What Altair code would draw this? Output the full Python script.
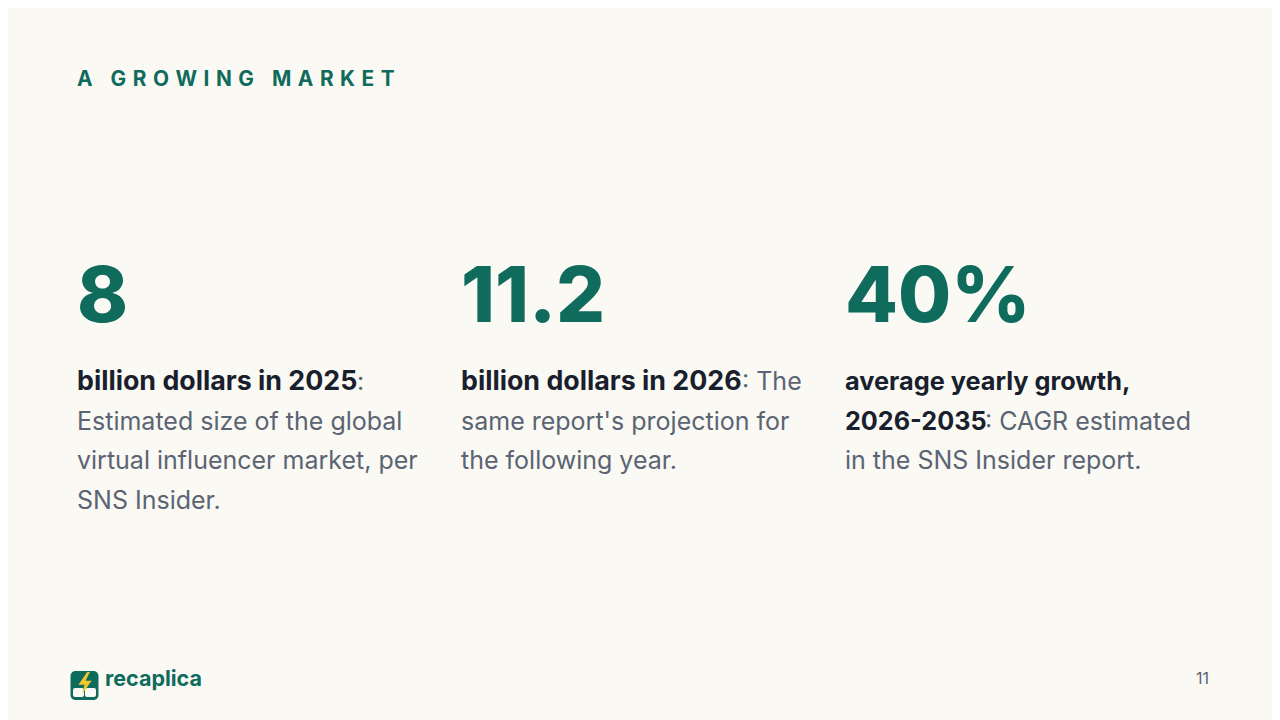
import altair as alt
import pandas as pd

GREEN = "#0f6b5c"
DARK = "#1a1f2e"
GREY = "#5b6472"
BG = "#faf9f4"

SEP = "\u2009\u200a\u200a"
WORD_SEP = SEP + " \u2009\u2009"
eyebrow_words = ["A", "GROWING", "MARKET"]
big_numbers = ["8", "11.2", "40%"]
bold_lines = [
    ["billion dollars in 2025"],
    ["billion dollars in 2026"],
    ["average yearly growth,", "2026-2035"],
]
grey_lines = [
    ["Estimated size of the global", "virtual influencer market, per", "SNS Insider."],
    ["same report's projection for", "the following year."],
    ["in the SNS Insider report."],
]
tails = [":", ": The", ": CAGR estimated"]
brand = "recaplica"
page_number = "11"

# page offset: the html body has an 8px margin
OFF = 8
W, H = 1264, 712
COLS = [77 - OFF, 461 - OFF, 845 - OFF]
LINE_Y = [382 - OFF, 422 - OFF, 461 - OFF, 501 - OFF]
TAIL_X = [357 - OFF, 742 - OFF, 985 - OFF]
TAIL_LINE = [0, 0, 1]
BOLD_SIZE = [[26.8], [26.8], [25.3, 25.2]]


def text_layer(text, x, y, size, color, weight=400, align="left", font="Inter"):
    return (
        alt.Chart(pd.DataFrame({"t": [text]}))
        .mark_text(align=align, baseline="middle", font=font, fontSize=size,
                   fontWeight=weight, color=color)
        .encode(text="t:N", x=alt.value(x), y=alt.value(y))
    )


eyebrow = WORD_SEP.join(SEP.join(w) for w in eyebrow_words)
layers = [text_layer(eyebrow, COLS[0], 80 - OFF, 20.8, GREEN, 700)]

for i, col_x in enumerate(COLS):
    layers.append(text_layer(big_numbers[i], col_x, 299 - OFF, 77, GREEN, 800))
    for j, line in enumerate(bold_lines[i]):
        layers.append(text_layer(line, col_x, LINE_Y[j], BOLD_SIZE[i][j], DARK, 700))
    layers.append(text_layer(tails[i], TAIL_X[i], LINE_Y[TAIL_LINE[i]], 25, GREY))
    start = len(bold_lines[i])
    for j, line in enumerate(grey_lines[i]):
        layers.append(text_layer(line, col_x, LINE_Y[start + j], 25, GREY))

# logo
logo_base = (
    alt.Chart(pd.DataFrame({"a": [0]}))
    .mark_rect(color=GREEN, cornerRadius=5)
    .encode(x=alt.value(70.5 - OFF), x2=alt.value(98.5 - OFF),
            y=alt.value(671 - OFF), y2=alt.value(700 - OFF))
)
book_left = (
    alt.Chart(pd.DataFrame({"a": [0]}))
    .mark_rect(color=BG, cornerRadius=2)
    .encode(x=alt.value(73 - OFF), x2=alt.value(84 - OFF),
            y=alt.value(688 - OFF), y2=alt.value(697 - OFF))
)
book_right = (
    alt.Chart(pd.DataFrame({"a": [0]}))
    .mark_rect(color=BG, cornerRadius=2)
    .encode(x=alt.value(85 - OFF), x2=alt.value(96 - OFF),
            y=alt.value(688 - OFF), y2=alt.value(697 - OFF))
)
bolt = (
    alt.Chart(pd.DataFrame({"a": [0]}))
    .mark_point(filled=True, color="#f2c72e", opacity=1, size=480,
                shape="M0.2,-1 L-0.6,0.15 L-0.05,0.15 L-0.25,1 L0.6,-0.2 L0.05,-0.2 L0.45,-1 Z")
    .encode(x=alt.value(85 - OFF), y=alt.value(683 - OFF))
)
layers += [logo_base, book_left, book_right, bolt]
layers.append(text_layer(brand, 105 - OFF, 680 - OFF, 21.5, GREEN, 700))
layers.append(text_layer(page_number, 1209 - OFF, 679 - OFF, 16, GREY, 400, align="right"))

chart = (
    alt.layer(*layers)
    .properties(width=W, height=H, background=BG, padding=0)
    .configure_view(stroke=None)
)

chart.save("out.html", embed_options={"renderer": "svg", "actions": False})
